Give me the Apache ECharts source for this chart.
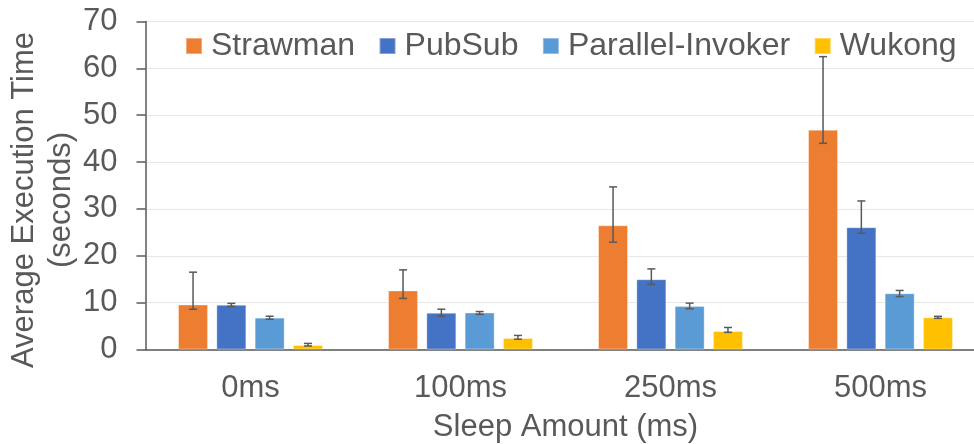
<!DOCTYPE html>
<html>
<head>
<meta charset="utf-8">
<script src="https://cdn.jsdelivr.net/npm/echarts@6/dist/echarts.min.js"></script>
<style>html,body{margin:0;padding:0;background:#fff;}#c{width:974px;height:444px;}</style>
</head>
<body>
<div id="c"></div>
<script>
const categories = ['0ms', '100ms', '250ms', '500ms'];
const seriesNames = ['Strawman', 'PubSub', 'Parallel-Invoker', 'Wukong'];
const strawman = [9.6, 12.6, 26.5, 46.9];
const pubsub = [9.55, 7.85, 15.0, 26.1];
const parallelInvoker = [6.8, 7.9, 9.3, 12.0];
const wukong = [0.96, 2.45, 3.94, 6.86];
// error bar ranges [low, high]
const strawmanErr = [[8.6, 16.5], [10.9, 17.0], [22.9, 34.7], [44.0, 62.5]];
const pubsubErr = [[9.2, 9.85], [7.1, 8.6], [13.9, 17.2], [24.8, 31.7]];
const parallelInvokerErr = [[6.45, 7.1], [7.5, 8.1], [8.7, 9.9], [11.3, 12.6]];
const wukongErr = [[0.75, 1.3], [2.2, 3.0], [3.66, 4.7], [6.65, 7.08]];
const yTicks = [0, 10, 20, 30, 40, 50, 60, 70];

const colors = ['#ED7D31', '#4472C4', '#5B9BD5', '#FFC000'];
const values = [strawman, pubsub, parallelInvoker, wukong];
const errs = [strawmanErr, pubsubErr, parallelInvokerErr, wukongErr];
const FONT = '"Liberation Sans", Arial, sans-serif';
const TXT = '#595959';
const BAR_W = 30;
const BAR_GAP_PX = 8.3;

const chart = echarts.init(document.getElementById('c'), null, {renderer: 'canvas'});

const barSeries = values.map((v, k) => ({
  name: seriesNames[k],
  type: 'bar',
  data: v,
  barWidth: BAR_W,
  barGap: (BAR_GAP_PX / BAR_W * 100).toFixed(1) + '%',
  itemStyle: {color: colors[k], borderColor: 'rgba(255,255,255,0.35)', borderWidth: 1},
  z: 2
}));

const errSeries = errs.map((e, k) => ({
  name: seriesNames[k] + ' error',
  type: 'custom',
  data: e.map((r, i) => [i, r[0], r[1]]),
  encode: {x: 0, y: [1, 2]},
  z: 5,
  silent: true,
  clip: false,
  renderItem: function (params, api) {
    const i = api.value(0);
    const lo = api.coord([i, api.value(1)]);
    const hi = api.coord([i, api.value(2)]);
    const off = (k - 1.5) * (BAR_W + BAR_GAP_PX);
    const x = lo[0] + off;
    const cap = 4;
    const style = {stroke: '#595959', lineWidth: 1.5, fill: null};
    return {
      type: 'group',
      children: [
        {type: 'line', shape: {x1: x, y1: lo[1], x2: x, y2: hi[1]}, style: style},
        {type: 'line', shape: {x1: x - cap, y1: lo[1], x2: x + cap, y2: lo[1]}, style: style},
        {type: 'line', shape: {x1: x - cap, y1: hi[1], x2: x + cap, y2: hi[1]}, style: style}
      ]
    };
  }
}));

chart.setOption({
  animation: false,
  textStyle: {fontFamily: FONT, color: TXT},
  grid: {left: 145.5, right: -11.5, top: 21.5, bottom: 94.5, containLabel: false, outerBoundsMode: 'none'},
  legend: {
    data: seriesNames,
    left: 180, top: 25,
    icon: 'rect', itemWidth: 16, itemHeight: 16, itemGap: 23.5,
    textStyle: {fontFamily: FONT, fontSize: 32, color: TXT, padding: [0, 0, 0, 4]}
  },
  xAxis: {
    type: 'category',
    data: categories,
    name: 'Sleep Amount (ms)',
    nameLocation: 'middle',
    nameGap: 62,
    nameMoveOverlap: false,
    nameTextStyle: {fontFamily: FONT, fontSize: 31, color: TXT},
    axisLine: {lineStyle: {color: '#595959', width: 1.5}},
    axisTick: {show: false},
    axisLabel: {fontFamily: FONT, fontSize: 31, color: TXT, margin: 23}
  },
  yAxis: {
    type: 'value',
    min: yTicks[0], max: yTicks[yTicks.length - 1], interval: 10,
    name: 'Average Execution Time\n(seconds)',
    nameLocation: 'middle',
    nameRotate: 90,
    nameGap: 66,
    nameMoveOverlap: false,
    nameTextStyle: {fontFamily: FONT, fontSize: 31, color: TXT, lineHeight: 37, padding: [0, 29, 0, 0]},
    axisLine: {show: true, lineStyle: {color: '#595959', width: 1.5}},
    axisTick: {show: true, inside: false, length: 9, lineStyle: {color: '#595959', width: 1.5}},
    axisLabel: {fontFamily: FONT, fontSize: 31, color: TXT, margin: 28},
    splitLine: {show: true, lineStyle: {color: '#D0D0D0', type: 'dotted', width: 1}}
  },
  series: barSeries.concat(errSeries)
});
</script>
</body>
</html>
